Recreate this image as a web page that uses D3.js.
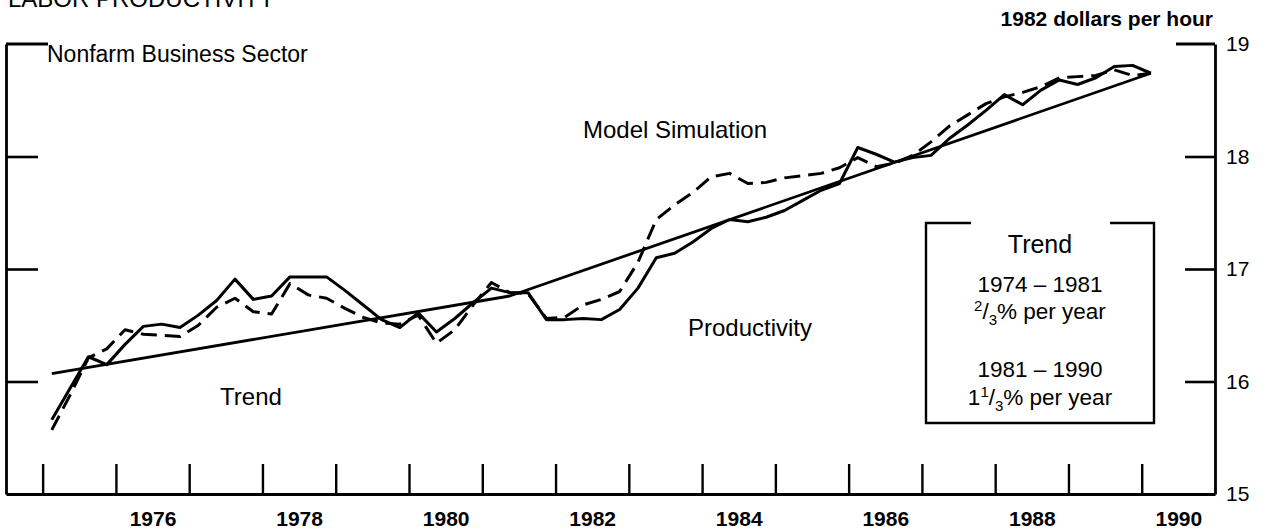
<!DOCTYPE html>
<html>
<head>
<meta charset="utf-8">
<script src="https://cdn.jsdelivr.net/npm/d3@7"></script>
<style>
  html, body { margin: 0; padding: 0; background: #fff; }
  svg { display: block; }
  text { font-family: "Liberation Sans", Arial, Helvetica, sans-serif; fill: #000; }
</style>
</head>
<body>
<svg id="chart" width="1268" height="531"></svg>
<script>
// ---- Data (quarterly, 1975Q1 .. 1990Q1) ----
const startYear = 1975;
const productivity = [
  15.66, 15.94, 16.22, 16.15,   // 1975
  16.33, 16.49, 16.51, 16.48,   // 1976
  16.59, 16.72, 16.91, 16.73,   // 1977
  16.76, 16.93, 16.93, 16.93,   // 1978
  16.81, 16.68, 16.55, 16.48,   // 1979
  16.61, 16.44, 16.56, 16.70,   // 1980
  16.83, 16.79, 16.79, 16.55,   // 1981
  16.55, 16.56, 16.55, 16.64,   // 1982
  16.83, 17.10, 17.14, 17.24,   // 1983
  17.36, 17.44, 17.42, 17.46,   // 1984
  17.52, 17.61, 17.70, 17.76,   // 1985
  18.08, 18.02, 17.95, 17.99,   // 1986
  18.01, 18.16, 18.28, 18.41,   // 1987
  18.55, 18.46, 18.59, 18.68,   // 1988
  18.64, 18.70, 18.80, 18.81,   // 1989
  18.74                          // 1990
];
const simulation = [
  15.57, 15.88, 16.21, 16.29,
  16.46, 16.42, 16.41, 16.40,
  16.50, 16.66, 16.74, 16.62,
  16.60, 16.87, 16.77, 16.74,
  16.65, 16.57, 16.52, 16.51,
  16.59, 16.34, 16.46, 16.68,
  16.88, 16.79, 16.78, 16.56,
  16.57, 16.68, 16.73, 16.80,
  17.06, 17.44, 17.57, 17.68,
  17.82, 17.85, 17.76, 17.77,
  17.81, 17.83, 17.85, 17.90,
  17.99, 17.91, 17.94, 18.01,
  18.13, 18.27, 18.37, 18.47,
  18.53, 18.57, 18.62, 18.70,
  18.71, 18.72, 18.77, 18.72,
  18.74
];
// Trend: piecewise linear (quarter positions)
const trendQuarters = ["1975Q1", "1981Q2", "1990Q1"];
const trendValues = [16.07, 16.76, 18.74];

const yearTicks = d3.range(1975, 1991);
const yearLabels = [1976, 1978, 1980, 1982, 1984, 1986, 1988, 1990];
const yTicks = [15, 16, 17, 18, 19];

const title = "LABOR PRODUCTIVITY";
const unitsLabel = "1982 dollars per hour";

// ---- Helpers ----
const qPos = (i) => startYear + i / 4 + 0.125;
const qStrPos = (s) => +s.slice(0, 4) + (+s.slice(5) - 1) / 4 + 0.125;

const svg = d3.select("#chart");
const x = d3.scaleLinear().domain([1974.5, 1991]).range([6, 1215]);
const y = d3.scaleLinear().domain([15, 19]).range([494, 44]);

const STROKE = "#000";

// ---- Frame ----
const xAxis = d3.axisBottom(x).tickValues(yearTicks).tickSize(-30).tickFormat("").tickSizeOuter(0);
const gx = svg.append("g").attr("transform", `translate(0,${y(15)})`).call(xAxis);
gx.select(".domain").attr("stroke", STROKE).attr("stroke-width", 2.8);
gx.selectAll(".tick line").attr("stroke", STROKE).attr("stroke-width", 2.4);

const xLab = d3.axisBottom(x).tickValues(yearLabels.map(d => d + 0.5)).tickSize(0).tickPadding(17)
  .tickFormat(d => String(Math.floor(d)));
const gxl = svg.append("g").attr("transform", `translate(0,${y(15)})`).call(xLab);
gxl.select(".domain").remove();
gxl.selectAll("text").style("font-family", '"Liberation Sans", Arial, sans-serif')
  .style("font-size", "21px").style("font-weight", "bold").attr("fill", STROKE);

const yLeft = d3.axisLeft(y).tickValues([16, 17, 18]).tickSize(-32).tickFormat("").tickSizeOuter(0);
const gyl = svg.append("g").attr("transform", `translate(${x(1974.5)},0)`).call(yLeft);
gyl.select(".domain").attr("stroke", STROKE).attr("stroke-width", 2.8);
gyl.selectAll(".tick line").attr("stroke", STROKE).attr("stroke-width", 2.6);
svg.append("line").attr("x1", x(1974.5)).attr("x2", x(1974.5) + 42)
  .attr("y1", y(19)).attr("y2", y(19)).attr("stroke", STROKE).attr("stroke-width", 2.8);

const yRight = d3.axisRight(y).tickValues([16, 17, 18]).tickSize(-30).tickPadding(13)
  .tickFormat("").tickSizeOuter(0);
const gyr = svg.append("g").attr("transform", `translate(${x(1991)},0)`).call(yRight);
gyr.select(".domain").attr("stroke", STROKE).attr("stroke-width", 2.8);
gyr.selectAll(".tick line").attr("stroke", STROKE).attr("stroke-width", 2.6);
svg.append("line").attr("x1", x(1991) - 39).attr("x2", x(1991))
  .attr("y1", y(19)).attr("y2", y(19)).attr("stroke", STROKE).attr("stroke-width", 2.8);
const yLab = d3.axisRight(y).tickValues(yTicks).tickSize(0).tickPadding(11).tickFormat(d3.format("d"));
const gyrl = svg.append("g").attr("transform", `translate(${x(1991)},0)`).call(yLab);
gyrl.select(".domain").remove();
gyrl.selectAll("text").style("font-family", '"Liberation Sans", Arial, sans-serif')
  .style("font-size", "21px").attr("fill", STROKE);

// ---- Lines ----
const line = d3.line().x(d => x(d[0])).y(d => y(d[1])).curve(d3.curveLinear);

svg.append("path")
  .datum(trendQuarters.map((q, i) => [qStrPos(q), trendValues[i]]))
  .attr("d", line).attr("fill", "none").attr("stroke", STROKE)
  .attr("stroke-width", 2.8).attr("stroke-linejoin", "round");

svg.append("path")
  .datum(simulation.map((v, i) => [qPos(i), v]))
  .attr("d", line).attr("fill", "none").attr("stroke", STROKE)
  .attr("stroke-width", 3).attr("stroke-dasharray", "16,8").attr("stroke-linejoin", "round");

svg.append("path")
  .datum(productivity.map((v, i) => [qPos(i), v]))
  .attr("d", line).attr("fill", "none").attr("stroke", STROKE)
  .attr("stroke-width", 3).attr("stroke-linejoin", "round");

// ---- Text annotations ----
svg.append("text").attr("x", 8).attr("y", 7).style("font-size", "24px").text(title);
svg.append("text").attr("x", 1213).attr("y", 26).attr("text-anchor", "end")
  .style("font-size", "21px").style("font-weight", "bold").text(unitsLabel);

svg.append("text").attr("x", 47).attr("y", 62).style("font-size", "23px").text("Nonfarm Business Sector");
svg.append("text").attr("x", 675).attr("y", 138).attr("text-anchor", "middle").style("font-size", "24px").text("Model Simulation");
svg.append("text").attr("x", 750).attr("y", 336).attr("text-anchor", "middle").style("font-size", "24px").text("Productivity");
svg.append("text").attr("x", 251).attr("y", 405).attr("text-anchor", "middle").style("font-size", "24px").text("Trend");

// ---- Trend box ----
const bx0 = 926, bx1 = 1154, by0 = 223, by1 = 423;
svg.append("path")
  .attr("d", `M${bx0 + 45},${by0} H${bx0} V${by1} H${bx1} V${by0} H${bx1 - 44}`)
  .attr("fill", "none").attr("stroke", STROKE).attr("stroke-width", 2.4);

const cx = 1040;
svg.append("text").attr("x", cx).attr("y", 253).attr("text-anchor", "middle").style("font-size", "25px").text("Trend");
svg.append("text").attr("x", cx).attr("y", 292).attr("text-anchor", "middle").style("font-size", "22.5px").text("1974 – 1981");
const t1 = svg.append("text").attr("x", cx).attr("y", 319).attr("text-anchor", "middle").style("font-size", "22.5px");
t1.append("tspan").attr("dy", -8).style("font-size", "15px").text("2");
t1.append("tspan").attr("dy", 8).text("/");
t1.append("tspan").attr("dy", 6).style("font-size", "15px").text("3");
t1.append("tspan").attr("dy", -6).text("% per year");
svg.append("text").attr("x", cx).attr("y", 377).attr("text-anchor", "middle").style("font-size", "22.5px").text("1981 – 1990");
const t2 = svg.append("text").attr("x", cx).attr("y", 405).attr("text-anchor", "middle").style("font-size", "22.5px");
t2.append("tspan").text("1");
t2.append("tspan").attr("dy", -8).style("font-size", "15px").text("1");
t2.append("tspan").attr("dy", 8).text("/");
t2.append("tspan").attr("dy", 6).style("font-size", "15px").text("3");
t2.append("tspan").attr("dy", -6).text("% per year");
</script>
</body>
</html>
